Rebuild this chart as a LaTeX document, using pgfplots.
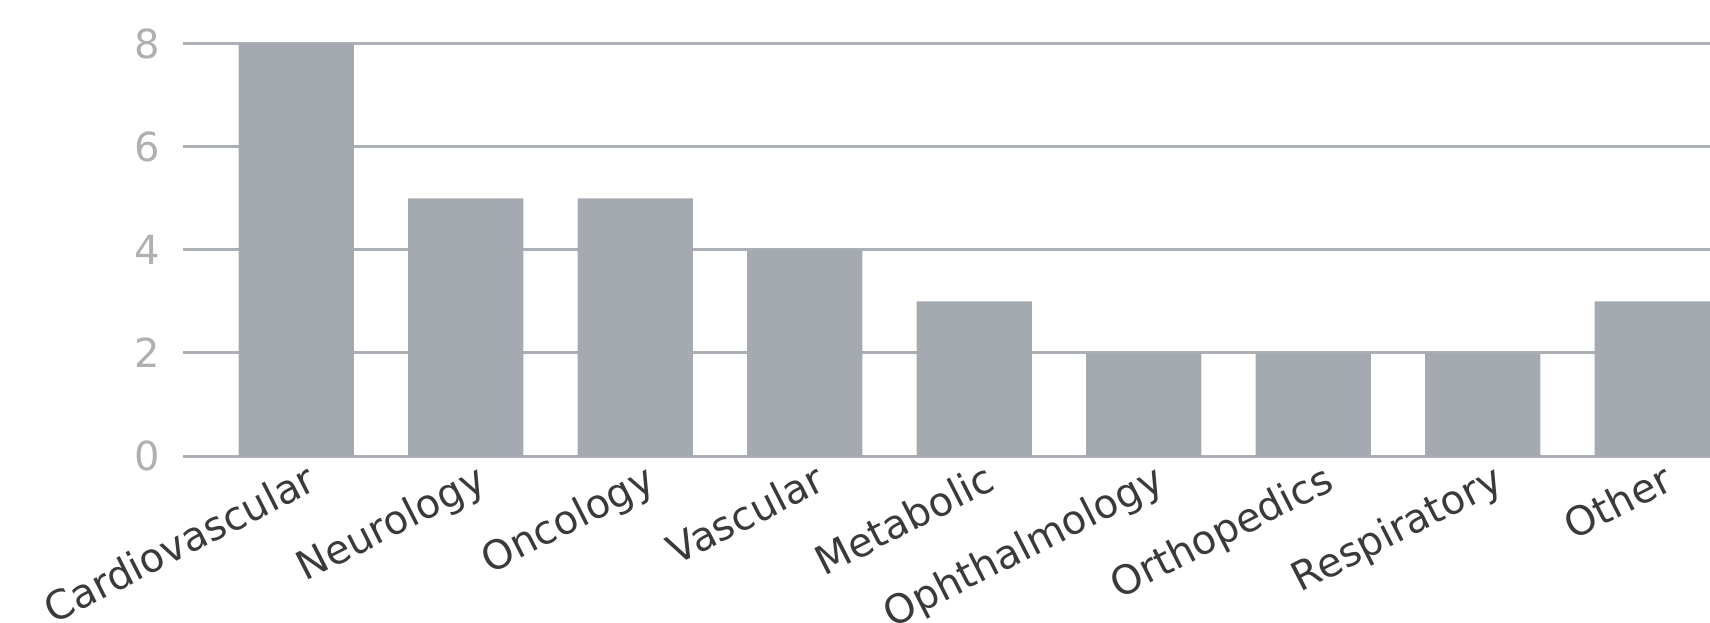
\documentclass[border=0pt]{standalone}
\usepackage{pgfplots}
\pgfplotsset{compat=1.18}
\usepackage{fontspec}
\setmainfont{DejaVu Sans}
\definecolor{barc}{HTML}{A5AAB1}
\definecolor{gridc}{HTML}{ABB0B6}
\definecolor{tickc}{HTML}{B0B0B0}
\definecolor{labc}{HTML}{3A3A3A}
\begin{document}
\begin{tikzpicture}
\path[use as bounding box] (-91.5pt,-83pt) rectangle (763.5pt,228pt);
\begin{axis}[
  at={(0,0)}, anchor=south west,
  width=763.5pt, height=206.15pt, scale only axis,
  xmin=-0.668, xmax=8.34, ymin=0, ymax=8,
  axis line style={draw=none},
  ytick={0,2,4,6,8},
  xtick={0,1,2,3,4,5,6,7,8},
  xticklabels={Cardiovascular,Neurology,Oncology,Vascular,Metabolic,Ophthalmology,Orthopedics,Respiratory,Other},
  major tick length=0pt,
  ymajorgrids, grid style={gridc, line width=1.5pt},
  /pgf/number format/assume math mode=true,
  yticklabel style={text=tickc, font=\fontsize{20}{22}\selectfont, xshift=-8pt},
  xticklabel style={text=labc, font=\fontsize{20}{22}\selectfont, rotate=27, anchor=north east, xshift=6pt, yshift=-1pt},
  clip=false,
]
\addplot[ybar, bar width=0.68, fill=barc, draw=none] coordinates {
  (0,8) (1,5) (2,5) (3,4) (4,3) (5,2) (6,2) (7,2) (8,3)
};
\end{axis}
\end{tikzpicture}
\end{document}
